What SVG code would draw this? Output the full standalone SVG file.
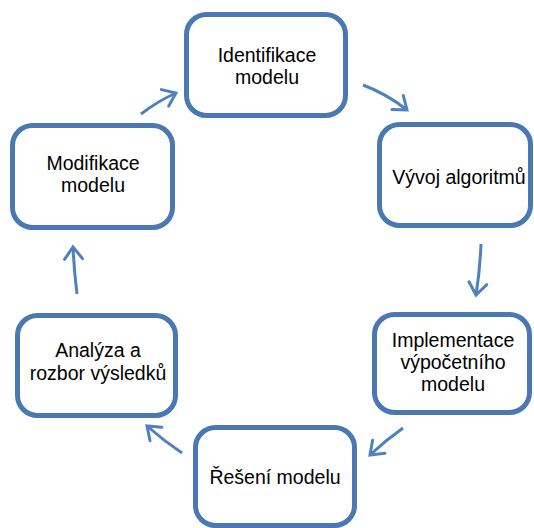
<svg xmlns="http://www.w3.org/2000/svg" width="534" height="528" viewBox="0 0 534 528">
<style>
.box{fill:#fff;stroke:#4a78b2;stroke-width:5}
.t{font-family:"Liberation Sans",Arial,sans-serif;font-size:19.5px;fill:#000;text-anchor:middle}
.c{fill:none;stroke:#4f81bd;stroke-width:3;marker-end:url(#ah)}
</style>
<defs>
<marker id="ah" markerUnits="userSpaceOnUse" markerWidth="30" markerHeight="30" refX="0" refY="0" viewBox="-15 -15 30 30" orient="auto" overflow="visible">
<path d="M-12,-9 L0,0 L-12,9" fill="none" stroke="#4f81bd" stroke-width="3" stroke-linecap="round" stroke-linejoin="miter"/>
</marker>
</defs>
<rect width="534" height="528" fill="#fff"/>
<g id="connectors">
<path class="c" d="M141,114 Q158,101 176,93"/>
<path class="c" d="M363,85 Q387,94 407,110"/>
<path class="c" d="M481,244 Q480,270 476,295"/>
<path class="c" d="M403,428 Q386,440 370,455"/>
<path class="c" d="M182,453 Q164,441 147,426"/>
<path class="c" d="M77,294 Q74,270 73,247"/>
</g>
<g id="n1">
<rect class="box" x="186.5" y="14.5" width="159" height="101" rx="20"/>
<text class="t" x="267" y="62">Identifikace</text>
<text class="t" x="267" y="84">modelu</text>
</g>
<g id="n2">
<rect class="box" x="379.5" y="124.5" width="151" height="101" rx="20"/>
<text class="t" x="459" y="184">Vývoj algoritmů</text>
</g>
<g id="n3">
<rect class="box" x="374.5" y="314.5" width="155" height="98" rx="20"/>
<text class="t" x="453" y="347">Implementace</text>
<text class="t" x="453" y="369">výpočetního</text>
<text class="t" x="453" y="391">modelu</text>
</g>
<g id="n4">
<rect class="box" x="195.5" y="427.5" width="159" height="98" rx="20"/>
<text class="t" x="275" y="484">Řešení modelu</text>
</g>
<g id="n5">
<rect class="box" x="17.5" y="315.5" width="158" height="100" rx="20"/>
<text class="t" x="98" y="357">Analýza a</text>
<text class="t" x="98" y="380">rozbor výsledků</text>
</g>
<g id="n6">
<rect class="box" x="12.5" y="125.5" width="160" height="102" rx="20"/>
<text class="t" x="93" y="170">Modifikace</text>
<text class="t" x="93" y="192">modelu</text>
</g>
</svg>
